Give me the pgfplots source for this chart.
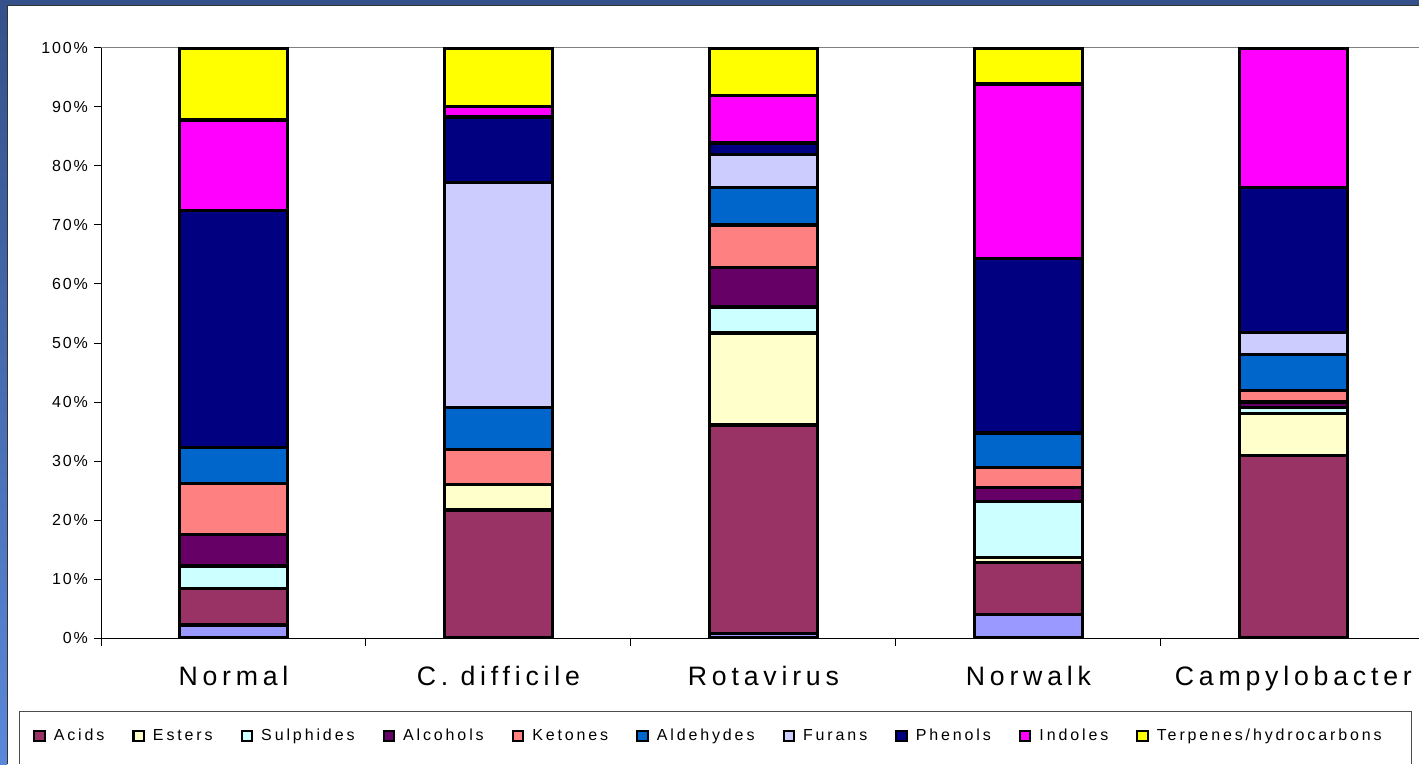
\documentclass[border=0pt]{standalone}
\usepackage{pgfplots}
\pgfplotsset{compat=1.18}
\usepackage{pgfplotstable}
\usepackage{fontspec}
\setmainfont{Liberation Sans}
\newfontfamily\spaced[LetterSpace=18]{Liberation Sans}
\newfontfamily\tickspaced[LetterSpace=12]{Liberation Sans}

\definecolor{cLav}{HTML}{9999FF}
\definecolor{cAcids}{HTML}{993366}
\definecolor{cEsters}{HTML}{FFFFCC}
\definecolor{cSulph}{HTML}{CCFFFF}
\definecolor{cAlc}{HTML}{660066}
\definecolor{cKet}{HTML}{FF8080}
\definecolor{cAld}{HTML}{0066CC}
\definecolor{cFur}{HTML}{CCCCFF}
\definecolor{cPhen}{HTML}{000080}
\definecolor{cInd}{HTML}{FF00FF}
\definecolor{cTerp}{HTML}{FFFF00}
\definecolor{frameTop}{HTML}{34518A}
\definecolor{frameLow}{HTML}{5A88D8}

% percent of each group (0 = Normal ... 4 = Campylobacter)
\pgfplotstableread{
x Lav Acids Esters Sulph Alc Ket Ald Fur Phen Ind Terp
0 2.2 6.2  0.0  3.8 5.4 8.6 6.1 0.0  40.2 15.3 12.2
1 0.0 21.7 4.3  0.0 0.0 5.9 7.1 38.2 11.1 1.8  9.9
2 0.7 35.4 15.6 4.4 6.7 7.2 6.3 5.6  2.0  8.1  8.0
3 4.0 8.8  0.8  9.6 2.3 3.4 5.7 0.3  29.4 29.6 6.1
4 0.0 30.9 7.2  0.9 1.0 1.9 6.2 3.7  24.5 23.7 0.0
}\data

\begin{document}
\begin{tikzpicture}[x=0.75pt,y=0.75pt]
% frame (1 unit = 1 px of the reference)
\fill[white] (0,0) rectangle (1419,764);
\shade[top color=frameTop, bottom color=frameLow] (0,0) rectangle (7,764);
\fill[frameTop] (0,759) rectangle (1419,764);
\draw[black!80, line width=0.75pt] (7.4,0) -- (7.4,758.6) -- (1419,758.6);
% legend box, open at the bottom
\draw[black!70, line width=0.75pt] (19,0) -- (19,52.5) -- (1411,52.5) -- (1411,0);

\begin{axis}[
    at={(75.75pt,94.5pt)}, anchor=south west,
    scale only axis,
    width=988.5pt, height=442.5pt,
    xmin=-0.5, xmax=4.474,
    ymin=0, ymax=100,
    axis x line*=bottom, axis y line*=left,
    axis line style={black, line width=0.75pt},
    ybar stacked, bar width=81pt,
    tick align=outside,
    major tick length=5.25pt,
    tick style={black, line width=0.75pt},
    ytick={0,10,...,100},
    yticklabel={\pgfmathprintnumber{\tick}\%},
    yticklabel style={font=\fontsize{12pt}{14pt}\tickspaced, xshift=-1pt, /pgf/number format/assume math mode=true},
    xtick={0,1,2,3,4},
    xticklabels={Normal, C. difficile, Rotavirus, Norwalk, Campylobacter},
    xticklabel style={font=\fontsize{20pt}{24pt}\spaced, yshift=-12pt},
    xtick style={draw=none},
    extra x ticks={-0.5,0.5,1.5,2.5,3.5},
    extra x tick labels={},
    extra x tick style={xtick style={draw=black, line width=0.75pt}, major tick length=6pt},
    legend columns=-1,
    legend style={at={(axis description cs:-0.0516,-0.166)}, anchor=west,
        draw=none, fill=none, inner sep=0pt,
        font=\fontsize{12pt}{14pt}\spaced,
        /tikz/every odd column/.append style={column sep=4pt},
        /tikz/every even column/.append style={column sep=19pt}},
    legend image code/.code={\draw[#1, draw=black, line width=1.6pt] (0pt,-3.9pt) rectangle (7.8pt,3.9pt);},
    every axis plot/.append style={draw=black, line width=2.3pt},
]
\addplot[fill=cLav, forget plot] table[x=x, y=Lav] {\data};
\addplot[fill=cAcids] table[x=x, y=Acids] {\data};
\addplot[fill=cEsters] table[x=x, y=Esters] {\data};
\addplot[fill=cSulph] table[x=x, y=Sulph] {\data};
\addplot[fill=cAlc] table[x=x, y=Alc] {\data};
\addplot[fill=cKet] table[x=x, y=Ket] {\data};
\addplot[fill=cAld] table[x=x, y=Ald] {\data};
\addplot[fill=cFur] table[x=x, y=Fur] {\data};
\addplot[fill=cPhen] table[x=x, y=Phen] {\data};
\addplot[fill=cInd] table[x=x, y=Ind] {\data};
\addplot[fill=cTerp] table[x=x, y=Terp] {\data};
\legend{Acids, Esters, Sulphides, Alcohols, Ketones, Aldehydes, Furans, Phenols, Indoles, Terpenes/hydrocarbons}
\draw[black!50, line width=0.75pt] (axis cs:-0.5,100) -- (axis cs:4.474,100);
\end{axis}
\pgfresetboundingbox
\useasboundingbox (0,0) rectangle (1419,764);
\end{tikzpicture}
\end{document}
